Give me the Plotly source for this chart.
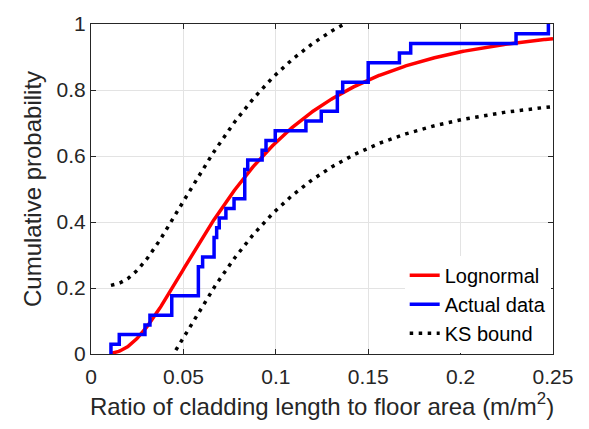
import math
import numpy as np
import plotly.graph_objects as go

# Observed cladding-length-to-floor-area ratios (m/m^2), sorted
ratios = [0.0108, 0.0153, 0.0292, 0.0319, 0.0437, 0.0437, 0.0581, 0.0581,
          0.0581, 0.0604, 0.0666, 0.0666, 0.0680, 0.0694, 0.0730, 0.0774,
          0.0832, 0.0832, 0.0832, 0.0848, 0.0926, 0.0947, 0.0997, 0.1163,
          0.1246, 0.1333, 0.1333, 0.1362, 0.1500, 0.1500, 0.1669, 0.1730,
          0.2300, 0.2475]

# Kolmogorov-Smirnov band half-width around the fitted CDF
ks_d = 0.206

x_ticks = [0, 0.05, 0.1, 0.15, 0.2, 0.25]
x_tick_text = ["0", "0.05", "0.1", "0.15", "0.2", "0.25"]
y_ticks = [0, 0.2, 0.4, 0.6, 0.8, 1]
y_tick_text = ["0", "0.2", "0.4", "0.6", "0.8", "1"]

# Empirical CDF as a staircase
data = np.sort(np.array(ratios))
n = len(data)
ux, counts = np.unique(data, return_counts=True)
ecdf = np.cumsum(counts) / n
step_x = np.concatenate([[ux[0]], ux])
step_y = np.concatenate([[0.0], ecdf])

# Lognormal fit to the observations
logs = np.log(data)
mu = logs.mean()
sigma = logs.std(ddof=1)
grid = np.linspace(data.min(), 0.25, 400)
fit_cdf = np.array([0.5 * (1 + math.erf((math.log(v) - mu) / (sigma * math.sqrt(2)))) for v in grid])
upper = fit_cdf + ks_d
lower = fit_cdf - ks_d

font_family = "Liberation Sans, Arial, Helvetica, sans-serif"
ink = "#262626"

fig = go.Figure()
fig.add_trace(go.Scatter(x=grid, y=fit_cdf, mode="lines", name="Lognormal",
                         line=dict(color="#ff0000", width=3.5)))
fig.add_trace(go.Scatter(x=step_x, y=step_y, mode="lines", name="Actual data",
                         line=dict(color="#0000ff", width=3.5, shape="hv")))
fig.add_trace(go.Scatter(x=grid, y=upper, mode="lines", name="KS bound",
                         line=dict(color="black", width=3.5, dash="3.5px,5.5px")))
fig.add_trace(go.Scatter(x=grid, y=lower, mode="lines", name="KS bound",
                         showlegend=False,
                         line=dict(color="black", width=3.5, dash="3.5px,5.5px")))

axis_common = dict(
    showline=True, linecolor=ink, linewidth=1, mirror="ticks",
    ticks="inside", ticklen=5, tickcolor=ink, tickwidth=1,
    showgrid=True, gridcolor="#e3e3e3", gridwidth=1,
    zeroline=False,
    tickfont=dict(family=font_family, size=21, color=ink),
)

fig.update_layout(
    width=589, height=429,
    margin=dict(l=91, r=36, t=15, b=75),
    paper_bgcolor="white", plot_bgcolor="white",
    font=dict(family=font_family, color=ink),
    xaxis=dict(range=[0, 0.25], tickvals=x_ticks, ticktext=x_tick_text,
               ticklabelstandoff=4,
               title=dict(text="Ratio of cladding length to floor area (m/m<sup>2</sup>)",
                          font=dict(family=font_family, size=24, color=ink),
                          standoff=10),
               **axis_common),
    yaxis=dict(range=[0, 1], tickvals=y_ticks, ticktext=y_tick_text,
               title=dict(text="Cumulative probability",
                          font=dict(family=font_family, size=24, color=ink),
                          standoff=8),
               **axis_common),
    legend=dict(x=0.995, y=0.004, xanchor="right", yanchor="bottom",
                bgcolor="white", borderwidth=0,
                font=dict(family=font_family, size=20, color="black"),
                tracegroupgap=0),
    showlegend=True,
)

fig.write_html("out.html")
